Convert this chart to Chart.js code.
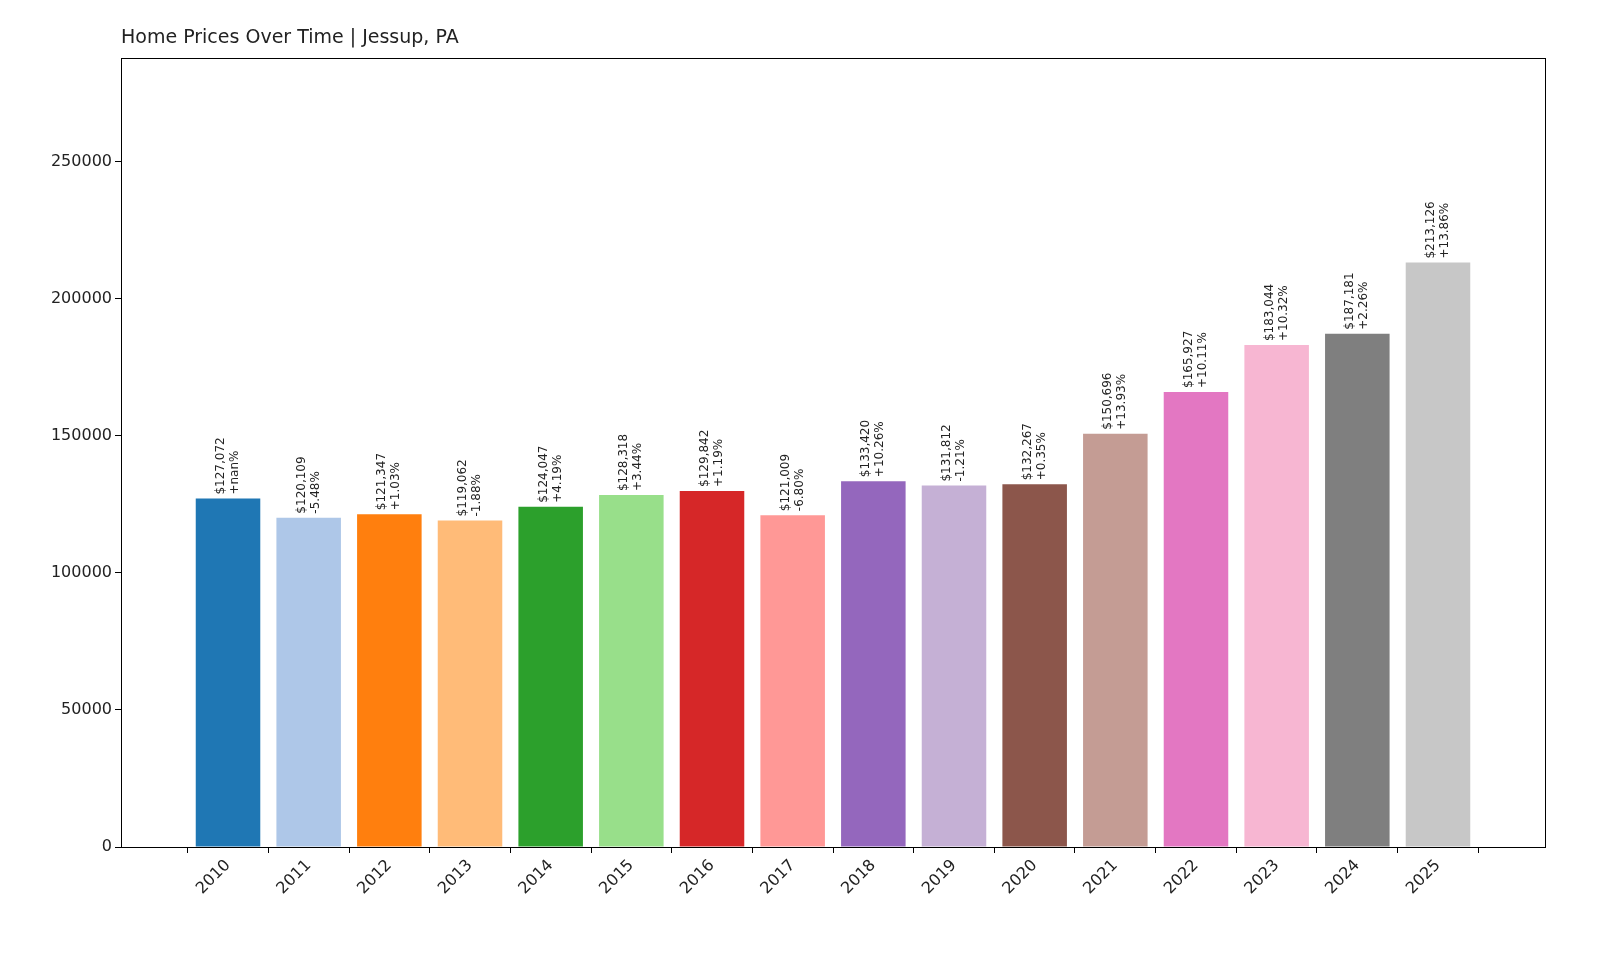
<!DOCTYPE html>
<html><head><meta charset="utf-8">
<script src="https://cdn.jsdelivr.net/npm/chart.js@4"></script>
<style>html,body{margin:0;background:#fff;overflow:hidden}canvas{display:block}</style>
</head><body><canvas id="c" width="1600" height="960" style="width:1600px;height:960px"></canvas>
<script>
const years=[2010,2011,2012,2013,2014,2015,2016,2017,2018,2019,2020,2021,2022,2023,2024,2025];
const prices=[127072,120109,121347,119062,124047,128318,129842,121009,133420,131812,132267,150696,165927,183044,187181,213126];
const changes=['+nan%','-5.48%','+1.03%','-1.88%','+4.19%','+3.44%','+1.19%','-6.80%','+10.26%','-1.21%','+0.35%','+13.93%','+10.11%','+10.32%','+2.26%','+13.86%'];
const colors=['#1f77b4','#aec7e8','#ff7f0e','#ffbb78','#2ca02c','#98df8a','#d62728','#ff9896','#9467bd','#c5b0d5','#8c564b','#c49c94','#e377c2','#f7b6d2','#7f7f7f','#c7c7c7'];
const yTicks=[0,50000,100000,150000,200000,250000];
const title='Home Prices Over Time | Jessup, PA';
const F='"DejaVu Sans", sans-serif';
const plug={id:'p',afterDatasetsDraw(ch){
 const c=ch.ctx,a=ch.chartArea;
 c.save();c.strokeStyle='#000';c.lineWidth=1;c.strokeRect(a.left+0.5,a.top+0.5,a.right-a.left,a.bottom-a.top);
 c.fillStyle='#222';c.font='19px '+F;c.textBaseline='bottom';c.textAlign='left';c.fillText(title,a.left,48);
 const meta=ch.getDatasetMeta(0);
 c.font='12px '+F;c.textAlign='left';
 meta.data.forEach((b,i)=>{
  c.save();c.translate(b.x,b.y-4);c.rotate(-Math.PI/2);
  c.textBaseline='bottom';c.fillText('$'+prices[i].toLocaleString('en-US'),0,-1);
  c.textBaseline='top';c.fillText(changes[i],0,1);
  c.restore();
 });
 c.restore();}};
new Chart(document.getElementById('c'),{type:'bar',
 data:{datasets:[{data:years.map((y,i)=>({x:y,y:prices[i]})),backgroundColor:colors,barPercentage:0.8,categoryPercentage:1}]},
 options:{responsive:false,animation:false,devicePixelRatio:1,
  layout:{padding:{left:0,top:58,right:55,bottom:0}},
  plugins:{legend:{display:false},tooltip:{enabled:false}},
  scales:{
   x:{type:'linear',min:2009.225,max:2025.775,grid:{drawOnChartArea:false,drawTicks:true,tickLength:6,tickColor:'#000'},border:{display:false},
    afterBuildTicks:s=>{s.ticks=years.map(v=>({value:v}))},afterFit:s=>{s.height=113},
    ticks:{color:'#222',font:{size:16,family:F},maxRotation:45,minRotation:45,callback:v=>String(v)}},
   y:{min:0,max:287720,grid:{drawOnChartArea:false,tickLength:6,tickColor:'#000'},border:{display:false},
    afterBuildTicks:s=>{s.ticks=yTicks.map(v=>({value:v}))},afterFit:s=>{s.width=121},
    ticks:{color:'#222',font:{size:16,family:F},callback:v=>String(v)}}}},
 plugins:[plug]});
</script></body></html>
